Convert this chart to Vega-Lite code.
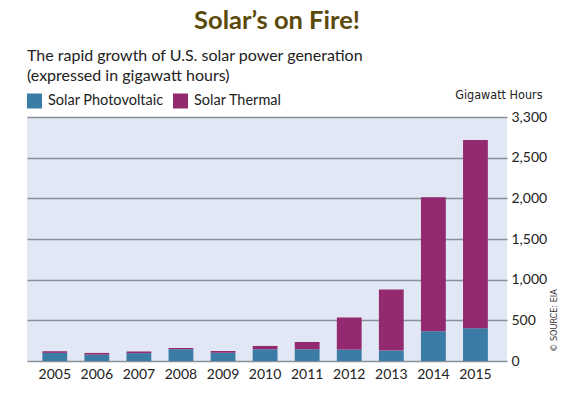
{
  "$schema": "https://vega.github.io/schema/vega-lite/v6.json",
  "width": 480,
  "height": 244,
  "autosize": "none",
  "padding": {"left": 27, "top": 117, "right": 73, "bottom": 39},
  "background": "white",
  "title": {
    "text": "Solar’s on Fire!",
    "anchor": "middle",
    "frame": "group",
    "dx": 10,
    "font": "Lato",
    "fontSize": 25.5,
    "fontWeight": "bold",
    "color": "#5b4a0b",
    "offset": 14
  },
  "config": {
    "font": "Lato",
    "view": {"fill": "#e1e7f4", "stroke": null}
  },
  "data": {
    "values": [
      {"year": "2005", "type": "Solar Photovoltaic", "gwh": 100},
      {"year": "2005", "type": "Solar Thermal", "gwh": 20},
      {"year": "2006", "type": "Solar Photovoltaic", "gwh": 78},
      {"year": "2006", "type": "Solar Thermal", "gwh": 21},
      {"year": "2007", "type": "Solar Photovoltaic", "gwh": 97},
      {"year": "2007", "type": "Solar Thermal", "gwh": 20},
      {"year": "2008", "type": "Solar Photovoltaic", "gwh": 144},
      {"year": "2008", "type": "Solar Thermal", "gwh": 16},
      {"year": "2009", "type": "Solar Photovoltaic", "gwh": 102},
      {"year": "2009", "type": "Solar Thermal", "gwh": 21},
      {"year": "2010", "type": "Solar Photovoltaic", "gwh": 144},
      {"year": "2010", "type": "Solar Thermal", "gwh": 41},
      {"year": "2011", "type": "Solar Photovoltaic", "gwh": 144},
      {"year": "2011", "type": "Solar Thermal", "gwh": 90},
      {"year": "2012", "type": "Solar Photovoltaic", "gwh": 140},
      {"year": "2012", "type": "Solar Thermal", "gwh": 395},
      {"year": "2013", "type": "Solar Photovoltaic", "gwh": 128},
      {"year": "2013", "type": "Solar Thermal", "gwh": 752},
      {"year": "2014", "type": "Solar Photovoltaic", "gwh": 366},
      {"year": "2014", "type": "Solar Thermal", "gwh": 1648},
      {"year": "2015", "type": "Solar Photovoltaic", "gwh": 403},
      {"year": "2015", "type": "Solar Thermal", "gwh": 2314}
    ]
  },
  "layer": [
    {
      "mark": {"type": "bar"},
      "encoding": {
        "x": {
          "field": "year",
          "type": "ordinal",
          "scale": {"paddingInner": 0.41, "paddingOuter": 0.41, "align": 0.445},
          "axis": {
            "title": null,
            "labelAngle": 0,
            "labelFontSize": 14,
            "labelColor": "#222222",
            "labelPadding": 6,
            "ticks": false,
            "domain": false
          }
        },
        "y": {
          "field": "gwh",
          "type": "quantitative",
          "aggregate": "sum",
          "stack": "zero",
          "scale": {"domain": [0, 3000], "nice": false},
          "axis": {
            "orient": "right",
            "values": [0, 500, 1000, 1500, 2000, 2500, 3000],
            "labelExpr": "datum.value == 3000 ? '3,300' : format(datum.value, ',')",
            "labelFontSize": 14,
            "labelColor": "#222222",
            "labelPadding": 4,
            "ticks": false,
            "domain": false,
            "grid": true,
            "gridColor": "#8a9099",
            "gridWidth": 1.4,
            "title": "Gigawatt Hours",
            "titleFont": "DejaVu Sans Condensed, Lato",
            "titleFontSize": 12.5,
            "titleFontWeight": "normal",
            "titleColor": "#222222",
            "titleAngle": 0,
            "titleAlign": "right",
            "titleBaseline": "alphabetic",
            "titleX": 35,
            "titleY": -19
          }
        },
        "color": {
          "field": "type",
          "type": "nominal",
          "scale": {
            "domain": ["Solar Photovoltaic", "Solar Thermal"],
            "range": ["#3a7ca6", "#932a6f"]
          },
          "legend": {
            "orient": "none",
            "legendX": 0,
            "legendY": -69,
            "direction": "horizontal",
            "title": ["The rapid growth of U.S. solar power generation", "(expressed in gigawatt hours)"],
            "titleLimit": 500,
            "titleFontSize": 16,
            "titleFontWeight": "normal",
            "titleColor": "#222222",
            "titleLineHeight": 19.5,
            "titlePadding": 10,
            "symbolType": "square",
            "symbolSize": 225,
            "symbolStrokeWidth": 0,
            "symbolOpacity": 1,
            "labelFontSize": 14.5,
            "labelColor": "#222222",
            "labelOffset": 6,
            "columnPadding": 9,
            "padding": 0
          }
        },
        "order": {"field": "type", "type": "nominal", "sort": "ascending"}
      }
    },
    {
      "mark": {"type": "rule", "opacity": 0},
      "encoding": {
        "y": {
          "datum": 0,
          "type": "quantitative",
          "scale": {"domain": [0, 1]},
          "axis": {
            "orient": "right",
            "labels": false,
            "ticks": false,
            "domain": false,
            "grid": false,
            "title": "© SOURCE: EIA",
            "titleFont": "DejaVu Sans Condensed, Lato",
            "titleFontSize": 9,
            "titleFontWeight": "normal",
            "titleColor": "#333333",
            "titleAngle": 270,
            "titleAlign": "center",
            "titleBaseline": "middle",
            "titleX": 46,
            "titleY": 203
          }
        }
      }
    }
  ],
  "resolve": {"scale": {"y": "independent"}, "axis": {"y": "independent"}}
}
